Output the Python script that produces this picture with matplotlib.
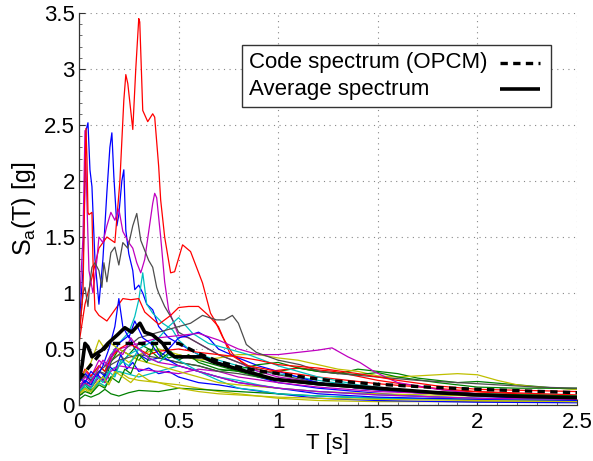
import matplotlib
matplotlib.use("Agg")
import matplotlib.pyplot as plt
from matplotlib.ticker import MultipleLocator
from matplotlib.patches import Rectangle
from matplotlib.lines import Line2D

plt.rcParams['font.family'] = ['Liberation Sans', 'DejaVu Sans']
plt.rcParams['mathtext.default'] = 'regular'

# ---------------- data ----------------
x_ticks = [0, 0.5, 1, 1.5, 2, 2.5]
x_tick_labels = ['0', '0.5', '1', '1.5', '2', '2.5']
y_ticks = [0, 0.5, 1, 1.5, 2, 2.5, 3, 3.5]
y_tick_labels = ['0', '0.5', '1', '1.5', '2', '2.5', '3', '3.5']
legend_labels = ['Code spectrum (OPCM)', 'Average spectrum']

# individual records (MATLAB colour order b, g, r, c, m, y, k)
b1_T = [0, 0.02, 0.035, 0.045, 0.055, 0.065, 0.08, 0.1, 0.12, 0.14, 0.155, 0.165, 0.175, 0.19, 0.2, 0.215, 0.225,
        0.235, 0.25, 0.27, 0.28, 0.3, 0.32, 0.34, 0.37, 0.4, 0.45, 0.5, 0.55, 0.6, 0.7, 0.8, 0.9, 1.0, 1.2, 1.4, 1.6,
        1.8, 2.0, 2.25, 2.5]
b1_S = [0.7, 1.2, 2.45, 2.52, 2.1, 1.95, 1.3, 0.9, 1.3, 1.9, 2.3, 2.43, 2.04, 1.6, 1.7, 2.0, 2.1,
        1.56, 1.35, 1.2, 1.03, 1.07, 1.0, 0.9, 0.85, 0.7, 0.6, 0.55, 0.5, 0.45, 0.38, 0.32, 0.25, 0.2, 0.15, 0.12, 0.09,
        0.07, 0.06, 0.05, 0.04]

g1_T = [0, 0.03, 0.06, 0.1, 0.13, 0.16, 0.2, 0.25, 0.3, 0.35, 0.4, 0.45, 0.5, 0.6, 0.7, 0.8, 0.9, 1.0, 1.1, 1.2,
        1.3, 1.4, 1.5, 1.6, 1.7, 1.8, 1.9, 2.0, 2.2, 2.4, 2.5]
g1_S = [0.1, 0.18, 0.13, 0.2, 0.28, 0.22, 0.35, 0.45, 0.4, 0.5, 0.48, 0.42, 0.45, 0.4, 0.35, 0.3, 0.28, 0.3, 0.33,
        0.3, 0.28, 0.32, 0.3, 0.28, 0.24, 0.22, 0.2, 0.21, 0.18, 0.15, 0.14]

rA_T = [0, 0.03, 0.06, 0.1, 0.14, 0.18, 0.205, 0.225, 0.235, 0.245, 0.27, 0.285, 0.3, 0.305, 0.32, 0.345, 0.37,
        0.38, 0.4, 0.41, 0.43, 0.46, 0.48, 0.52, 0.56, 0.62, 0.66, 0.68, 0.72, 0.77, 0.85, 0.95, 1.1, 1.28, 1.5,
        1.85, 2.2, 2.5]
rA_S = [0.55, 0.9, 1.1, 1.4, 1.5, 1.45, 1.99, 2.72, 2.95, 2.87, 2.46, 3.0, 3.45, 3.42, 2.63, 2.53, 2.6,
        2.57, 2.13, 1.83, 1.5, 1.18, 1.19, 1.43, 1.37, 1.09, 0.82, 0.76, 0.61, 0.46, 0.33, 0.3, 0.33, 0.3, 0.22,
        0.13, 0.1, 0.08]

c1_T = [0, 0.03, 0.06, 0.1, 0.13, 0.16, 0.2, 0.25, 0.28, 0.3, 0.32, 0.34, 0.37, 0.42, 0.47, 0.5, 0.55, 0.6, 0.7,
        0.8, 0.9, 1.0, 1.2, 1.4, 1.6, 1.8, 2.0, 2.25, 2.5]
c1_S = [0.2, 0.28, 0.24, 0.35, 0.3, 0.45, 0.55, 0.65, 0.79, 0.94, 1.18, 0.9, 0.82, 0.73, 0.67, 0.58, 0.5, 0.45,
        0.4, 0.35, 0.3, 0.28, 0.22, 0.17, 0.13, 0.1, 0.08, 0.07, 0.06]

m1_T = [0, 0.02, 0.03, 0.04, 0.05, 0.07, 0.09, 0.1, 0.12, 0.14, 0.16, 0.18, 0.2, 0.22, 0.25, 0.27, 0.29, 0.31,
        0.33, 0.35, 0.37, 0.38, 0.39, 0.41, 0.43, 0.45, 0.5, 0.55, 0.6, 0.7, 0.8, 0.9, 1.0, 1.2, 1.4, 1.6, 2.0, 2.5]
m1_S = [0.8, 1.5, 2.45, 1.8, 1.2, 1.0, 1.3, 1.5, 1.45, 1.6, 1.72, 1.65, 1.75, 1.55, 1.45, 1.4, 1.27, 1.18,
        1.3, 1.55, 1.8, 1.89, 1.85, 1.5, 1.1, 0.85, 0.62, 0.6, 0.55, 0.45, 0.38, 0.3, 0.25, 0.2, 0.15, 0.12, 0.08, 0.06]

y1_T = [0, 0.03, 0.06, 0.1, 0.13, 0.16, 0.2, 0.25, 0.3, 0.4, 0.5, 0.6, 0.7, 0.8, 0.9, 1.0, 1.1, 1.2, 1.3, 1.4,
        1.5, 1.6, 1.7, 1.8, 1.9, 2.0, 2.1, 2.2, 2.3, 2.4, 2.5]
y1_S = [0.15, 0.22, 0.18, 0.35, 0.3, 0.4, 0.45, 0.38, 0.45, 0.5, 0.45, 0.4, 0.42, 0.45, 0.45, 0.42, 0.4, 0.36,
        0.32, 0.3, 0.26, 0.25, 0.26, 0.27, 0.28, 0.27, 0.22, 0.18, 0.16, 0.15, 0.14]

k1_T = [0, 0.02, 0.03, 0.045, 0.055, 0.065, 0.08, 0.1, 0.115, 0.125, 0.14, 0.16, 0.18, 0.2, 0.22, 0.245, 0.27,
        0.29, 0.31, 0.33, 0.35, 0.37, 0.39, 0.4, 0.43, 0.47, 0.5, 0.55, 0.6, 0.7, 0.8, 0.9, 1.0, 1.2, 1.4, 1.6, 1.8,
        2.0, 2.25, 2.5]
k1_S = [0.6, 1.0, 1.05, 0.88, 1.1, 1.23, 1.27, 1.2, 1.05, 1.27, 1.1, 1.36, 1.41, 1.25, 1.45, 1.4, 1.6,
        1.71, 1.47, 1.38, 1.29, 1.23, 1.05, 1.0, 0.88, 0.76, 0.65, 0.6, 0.55, 0.45, 0.38, 0.32, 0.27, 0.2, 0.15,
        0.12, 0.1, 0.08, 0.07, 0.06]

b2_T = [0, 0.03, 0.06, 0.1, 0.13, 0.16, 0.2, 0.25, 0.28, 0.3, 0.35, 0.4, 0.45, 0.5, 0.55, 0.6, 0.65, 0.7, 0.8,
        0.9, 1.0, 1.2, 1.4, 1.6, 1.8, 2.0, 2.25, 2.5]
b2_S = [0.2, 0.28, 0.22, 0.3, 0.26, 0.42, 0.55, 0.62, 0.5, 0.45, 0.4, 0.42, 0.5, 0.6, 0.62, 0.65, 0.6, 0.5, 0.42,
        0.35, 0.3, 0.2, 0.15, 0.12, 0.1, 0.08, 0.06, 0.05]

g2_T = [0, 0.03, 0.06, 0.1, 0.13, 0.16, 0.2, 0.25, 0.3, 0.35, 0.4, 0.5, 0.6, 0.7, 0.8, 0.9, 1.0, 1.1, 1.2, 1.4,
        1.5, 1.6, 1.8, 2.0, 2.2, 2.5]
g2_S = [0.12, 0.2, 0.15, 0.25, 0.2, 0.38, 0.5, 0.45, 0.55, 0.5, 0.42, 0.38, 0.35, 0.3, 0.32, 0.36, 0.38, 0.33,
        0.3, 0.27, 0.29, 0.25, 0.2, 0.16, 0.15, 0.15]

rC_T = [0, 0.02, 0.03, 0.035, 0.04, 0.045, 0.05, 0.065, 0.07, 0.08, 0.1, 0.14, 0.18, 0.22, 0.26, 0.3, 0.33,
        0.4, 0.46, 0.5, 0.55, 0.6, 0.65, 0.7, 0.76, 0.85, 1.0, 1.2, 1.5, 2.0, 2.5]
rC_S = [0.6, 1.0, 2.0, 2.47, 2.2, 1.72, 1.7, 1.72, 1.3, 0.85, 0.8, 0.75, 0.85, 0.95, 0.94, 0.95, 0.83,
        0.72, 0.8, 0.87, 0.88, 0.88, 0.8, 0.7, 0.45, 0.35, 0.3, 0.25, 0.19, 0.12, 0.09]

c2_T = [0, 0.03, 0.06, 0.1, 0.13, 0.16, 0.2, 0.25, 0.3, 0.35, 0.4, 0.45, 0.5, 0.57, 0.65, 0.75, 0.85, 1.0, 1.2,
        1.4, 1.6, 1.8, 2.0, 2.25, 2.5]
c2_S = [0.15, 0.22, 0.18, 0.25, 0.22, 0.32, 0.35, 0.45, 0.5, 0.55, 0.6, 0.7, 0.78, 0.64, 0.55, 0.5, 0.45, 0.35,
        0.25, 0.18, 0.14, 0.11, 0.09, 0.08, 0.07]

m2_T = [0, 0.03, 0.06, 0.1, 0.13, 0.16, 0.2, 0.3, 0.4, 0.5, 0.6, 0.7, 0.8, 0.9, 1.0, 1.1, 1.2, 1.27, 1.35, 1.41,
        1.48, 1.55, 1.6, 1.8, 2.0, 2.25, 2.5]
m2_S = [0.2, 0.3, 0.25, 0.4, 0.35, 0.45, 0.5, 0.55, 0.6, 0.62, 0.64, 0.58, 0.5, 0.45, 0.45, 0.47, 0.49, 0.51,
        0.43, 0.38, 0.3, 0.24, 0.2, 0.14, 0.1, 0.08, 0.07]

y2_T = [0, 0.03, 0.06, 0.1, 0.13, 0.16, 0.2, 0.25, 0.3, 0.4, 0.5, 0.6, 0.7, 0.8, 1.0, 1.2, 1.5, 2.0, 2.5]
y2_S = [0.08, 0.14, 0.1, 0.2, 0.16, 0.25, 0.3, 0.24, 0.22, 0.2, 0.18, 0.15, 0.12, 0.1, 0.06, 0.04, 0.03, 0.03, 0.03]

k2_T = [0, 0.05, 0.1, 0.2, 0.3, 0.4, 0.5, 0.56, 0.62, 0.69, 0.73, 0.77, 0.8, 0.84, 0.89, 1.0, 1.11, 1.21,
        1.3, 1.5, 1.7, 1.9, 2.1, 2.3, 2.5]
k2_S = [0.15, 0.2, 0.3, 0.45, 0.6, 0.65, 0.7, 0.73, 0.8, 0.76, 0.76, 0.8, 0.73, 0.54, 0.47, 0.4, 0.36, 0.3,
        0.28, 0.25, 0.22, 0.2, 0.18, 0.16, 0.15]

b3_T = [0, 0.03, 0.06, 0.09, 0.12, 0.15, 0.18, 0.21, 0.24, 0.27, 0.3, 0.35, 0.4, 0.45, 0.5, 0.6, 0.7, 0.8, 1.0,
        1.2, 1.5, 2.0, 2.5]
b3_S = [0.15, 0.22, 0.18, 0.28, 0.22, 0.35, 0.3, 0.45, 0.32, 0.38, 0.3, 0.33, 0.28, 0.3, 0.25, 0.2, 0.18, 0.15,
        0.1, 0.06, 0.04, 0.025, 0.02]

g3_T = [0, 0.03, 0.06, 0.1, 0.13, 0.16, 0.2, 0.25, 0.3, 0.4, 0.5, 0.6, 0.8, 1.0, 1.2, 1.5, 2.0, 2.5]
g3_S = [0.05, 0.09, 0.07, 0.1, 0.14, 0.1, 0.08, 0.11, 0.13, 0.12, 0.15, 0.14, 0.12, 0.1, 0.08, 0.06, 0.05, 0.04]

r3_T = [0, 0.03, 0.06, 0.1, 0.13, 0.16, 0.2, 0.25, 0.3, 0.35, 0.4, 0.5, 0.6, 0.7, 0.8, 0.9, 1.0, 1.2, 1.4, 1.6,
        1.8, 2.0, 2.25, 2.5]
r3_S = [0.2, 0.32, 0.26, 0.35, 0.3, 0.42, 0.5, 0.55, 0.5, 0.45, 0.48, 0.5, 0.47, 0.45, 0.43, 0.4, 0.36, 0.33,
        0.28, 0.22, 0.17, 0.14, 0.13, 0.12]

c3_T = [0, 0.03, 0.06, 0.1, 0.13, 0.16, 0.2, 0.3, 0.4, 0.5, 0.6, 0.7, 0.8, 0.9, 1.0, 1.2, 1.5, 2.0, 2.5]
c3_S = [0.1, 0.16, 0.12, 0.2, 0.17, 0.25, 0.3, 0.25, 0.3, 0.35, 0.3, 0.22, 0.15, 0.13, 0.1, 0.08, 0.06, 0.05, 0.04]

m3_T = [0, 0.03, 0.06, 0.1, 0.13, 0.16, 0.2, 0.3, 0.4, 0.5, 0.6, 0.7, 0.8, 1.0, 1.2, 1.5, 2.0, 2.5]
m3_S = [0.12, 0.2, 0.16, 0.25, 0.2, 0.3, 0.35, 0.32, 0.3, 0.28, 0.32, 0.3, 0.25, 0.2, 0.16, 0.12, 0.09, 0.08]

y3_T = [0, 0.03, 0.06, 0.1, 0.13, 0.16, 0.2, 0.25, 0.3, 0.4, 0.5, 0.6, 0.7, 0.8, 1.0, 1.2, 1.5, 2.0, 2.5]
y3_S = [0.2, 0.3, 0.38, 0.58, 0.5, 0.55, 0.5, 0.45, 0.4, 0.35, 0.3, 0.25, 0.2, 0.18, 0.15, 0.12, 0.1, 0.08, 0.07]

k3_T = [0, 0.03, 0.06, 0.1, 0.13, 0.16, 0.2, 0.3, 0.4, 0.5, 0.6, 0.7, 0.8, 1.0, 1.2, 1.5, 2.0, 2.5]
k3_S = [0.2, 0.26, 0.22, 0.3, 0.28, 0.36, 0.4, 0.45, 0.42, 0.38, 0.35, 0.3, 0.28, 0.22, 0.18, 0.14, 0.1, 0.08]

b4_T = [0, 0.03, 0.06, 0.09, 0.12, 0.15, 0.18, 0.2, 0.22, 0.25, 0.28, 0.32, 0.36, 0.4, 0.45, 0.5, 0.6, 0.7,
        0.8, 1.0, 1.2, 1.5, 2.0, 2.5]
b4_S = [0.25, 0.2, 0.3, 0.25, 0.35, 0.5, 0.7, 0.95, 0.7, 0.6, 0.75, 0.6, 0.55, 0.45, 0.4, 0.35, 0.3, 0.25,
        0.2, 0.15, 0.1, 0.07, 0.05, 0.04]

g4_T = [0, 0.03, 0.06, 0.1, 0.13, 0.16, 0.2, 0.23, 0.26, 0.3, 0.34, 0.38, 0.42, 0.46, 0.5, 0.55, 0.6, 0.7, 0.8,
        0.9, 1.0, 1.2, 1.5, 2.0, 2.5]
g4_S = [0.08, 0.12, 0.1, 0.18, 0.15, 0.25, 0.2, 0.32, 0.28, 0.45, 0.38, 0.55, 0.42, 0.48, 0.4, 0.45, 0.38, 0.32,
        0.3, 0.25, 0.22, 0.18, 0.14, 0.1, 0.08]

c4_T = [0, 0.03, 0.06, 0.09, 0.12, 0.15, 0.18, 0.21, 0.25, 0.3, 0.35, 0.4, 0.45, 0.5, 0.6, 0.7, 0.8, 0.9, 1.0,
        1.2, 1.5, 2.0, 2.5]
c4_S = [0.12, 0.18, 0.15, 0.25, 0.2, 0.3, 0.25, 0.4, 0.35, 0.5, 0.42, 0.38, 0.45, 0.4, 0.3, 0.25, 0.22, 0.18,
        0.15, 0.12, 0.09, 0.06, 0.05]

m4_T = [0, 0.03, 0.06, 0.09, 0.12, 0.15, 0.18, 0.22, 0.26, 0.3, 0.35, 0.4, 0.5, 0.6, 0.7, 0.8, 1.0, 1.2, 1.5,
        2.0, 2.5]
m4_S = [0.15, 0.25, 0.2, 0.3, 0.4, 0.35, 0.5, 0.45, 0.6, 0.5, 0.42, 0.38, 0.35, 0.3, 0.25, 0.2, 0.15, 0.12,
        0.09, 0.06, 0.05]

y4_T = [0, 0.03, 0.06, 0.09, 0.12, 0.15, 0.18, 0.22, 0.26, 0.3, 0.35, 0.4, 0.5, 0.6, 0.7, 0.8, 1.0, 1.2, 1.5,
        2.0, 2.5]
y4_S = [0.1, 0.15, 0.12, 0.2, 0.25, 0.18, 0.3, 0.25, 0.2, 0.28, 0.22, 0.2, 0.15, 0.12, 0.1, 0.09, 0.07, 0.06,
        0.05, 0.04, 0.03]

# code spectrum (OPCM)
code_T = [0, 0.15, 0.5, 0.6, 0.7, 0.8, 0.9, 1.0, 1.25, 1.5, 1.75, 2.0, 2.25, 2.5]
code_S = [0.23, 0.55, 0.55, 0.46, 0.39, 0.34, 0.305, 0.28, 0.22, 0.185, 0.16, 0.14, 0.125, 0.11]

# average spectrum
avg_T = [0, 0.015, 0.03, 0.045, 0.065, 0.08, 0.115, 0.145, 0.195, 0.23, 0.265, 0.306, 0.33, 0.37, 0.42,
         0.45, 0.48, 0.53, 0.62, 0.68, 0.82, 0.98, 1.2, 1.5, 1.8, 2.0, 2.25, 2.5]
avg_S = [0.22, 0.35, 0.55, 0.52, 0.43, 0.45, 0.49, 0.55, 0.63, 0.69, 0.65, 0.73, 0.65, 0.625, 0.55,
         0.47, 0.43, 0.43, 0.43, 0.38, 0.31, 0.23, 0.19, 0.15, 0.11, 0.09, 0.075, 0.065]

records = [
    (b1_T, b1_S, 'b'), (g1_T, g1_S, 'g'), (rA_T, rA_S, 'r'), (c1_T, c1_S, 'c'),
    (m1_T, m1_S, 'm'), (y1_T, y1_S, 'y'), (k1_T, k1_S, 'k'),
    (b2_T, b2_S, 'b'), (g2_T, g2_S, 'g'), (rC_T, rC_S, 'r'), (c2_T, c2_S, 'c'),
    (m2_T, m2_S, 'm'), (y2_T, y2_S, 'y'), (k2_T, k2_S, 'k'),
    (b3_T, b3_S, 'b'), (g3_T, g3_S, 'g'), (r3_T, r3_S, 'r'), (c3_T, c3_S, 'c'),
    (m3_T, m3_S, 'm'), (y3_T, y3_S, 'y'), (k3_T, k3_S, 'k'),
    (b4_T, b4_S, 'b'), (g4_T, g4_S, 'g'), (c4_T, c4_S, 'c'), (m4_T, m4_S, 'm'), (y4_T, y4_S, 'y'),
]

# ---------------- styles ----------------
colour_map = {
    'b': (0.0, 0.0, 1.0), 'g': (0.0, 0.5, 0.0), 'r': (1.0, 0.0, 0.0),
    'c': (0.0, 0.75, 0.75), 'm': (0.75, 0.0, 0.75), 'y': (0.75, 0.75, 0.0),
    'k': (0.3, 0.3, 0.3),
}
FS = 16
code_style = dict(color='black', lw=2.4, ls=(0, (2.2, 1.6)))
avg_style = dict(color='black', lw=2.6, solid_joinstyle='round', solid_capstyle='butt')

fig = plt.figure(figsize=(5.93, 4.61), dpi=100)
ax = fig.add_axes([79 / 593, 56 / 461, 498 / 593, 392 / 461])

for T, S, c in records:
    ax.plot(T, S, color=colour_map[c], lw=0.9, solid_joinstyle='round')

ax.plot(code_T, code_S, **code_style)
ax.plot(avg_T, avg_S, **avg_style)

ax.set_xlim(0, 2.5)
ax.set_ylim(0, 3.5)
ax.set_xticks(x_ticks)
ax.set_xticklabels(x_tick_labels)
ax.set_yticks(y_ticks)
ax.set_yticklabels(y_tick_labels)
ax.xaxis.set_minor_locator(MultipleLocator(0.1))
ax.yaxis.set_minor_locator(MultipleLocator(0.1))
ax.tick_params(axis='both', which='major', direction='in', length=4, width=0.8,
               labelsize=FS, colors='#333333', labelcolor='black', pad=3)
ax.tick_params(axis='x', which='major', pad=5)
ax.tick_params(axis='both', which='minor', direction='in', length=2, width=0.6, colors='#555555')

for s in ['top', 'right']:
    ax.spines[s].set_visible(False)
for s in ['left', 'bottom']:
    ax.spines[s].set_color('#333333')
    ax.spines[s].set_linewidth(0.9)

ax.grid(True, which='major', color='#888888', ls=(0, (1, 4)), lw=0.8)
ax.set_axisbelow(True)

ax.set_xlabel('T [s]', fontsize=FS, labelpad=0)
ax.set_ylabel('S$_a$(T) [g]', fontsize=FS + 2, labelpad=4)

# legend drawn MATLAB style: text left, line sample right
ax.add_patch(Rectangle((0.327, 0.760), 0.621, 0.158, transform=ax.transAxes,
                       facecolor='white', edgecolor='#333333', lw=1.0, zorder=5))
row_y = [0.873, 0.806]
styles = [code_style, avg_style]
for lab, yy, st in zip(legend_labels, row_y, styles):
    ax.text(0.342, yy, lab, transform=ax.transAxes, fontsize=FS, va='center', ha='left', zorder=6)
    ax.add_line(Line2D([0.846, 0.926], [yy, yy], transform=ax.transAxes, zorder=6, **st))

fig.savefig('out.png', dpi=100)
